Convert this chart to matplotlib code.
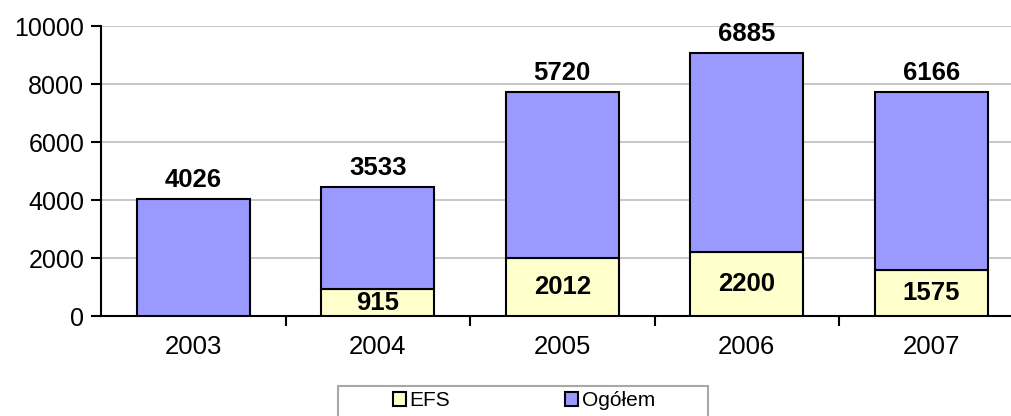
import matplotlib
matplotlib.use("Agg")
import matplotlib.pyplot as plt
from matplotlib.patches import Rectangle
import numpy as np

plt.rcParams['font.family'] = ['Liberation Sans', 'DejaVu Sans']

years = ['2003', '2004', '2005', '2006', '2007']
efs = [0, 915, 2012, 2200, 1575]
ogolem = [4026, 3533, 5720, 6885, 6166]

c_efs = '#FFFFCC'
c_ogolem = '#9999FF'

fig = plt.figure(figsize=(10.11, 4.16), dpi=100)
ax = fig.add_axes([101 / 1011, 100 / 416, 910 / 1011, 290 / 416])

x = np.arange(len(years))
w = 0.61
b1 = ax.bar(x, efs, w, color=c_efs, edgecolor='black', linewidth=1.5, label='EFS', zorder=3)
b2 = ax.bar(x, ogolem, w, bottom=efs, color=c_ogolem, edgecolor='black', linewidth=1.5,
            label='Ogółem', zorder=3)

ax.bar_label(b1, labels=[str(v) if v else '' for v in efs], label_type='center',
             fontsize=18.5, fontweight='bold')
ax.bar_label(b2, labels=[str(v) for v in ogolem], padding=5,
             fontsize=18.5, fontweight='bold')

ax.set_ylim(0, 10000)
ax.set_xlim(-0.5, -0.5 + 910 / 184.5)
ax.set_yticks(range(0, 10001, 2000))
ax.set_xticks(x)
ax.set_xticklabels(years)
ax.set_xticks(x[:-1] + 0.5, minor=True)
ax.tick_params(axis='x', which='major', length=0, pad=14, labelsize=18.5)
ax.tick_params(axis='x', which='minor', length=7, width=1.5, direction='out')
ax.tick_params(axis='y', length=7, width=1.5, direction='out', labelsize=18, pad=5)
ax.yaxis.grid(True, color='#BEBEBE', linewidth=1.2, zorder=0)
ax.set_axisbelow(True)

for s in ['top', 'right']:
    ax.spines[s].set_visible(False)
ax.spines['left'].set_linewidth(1.5)
ax.spines['bottom'].set_linewidth(1.5)

# legend box drawn separately (wider than the entries, cut off at the bottom)
fig.patches.append(Rectangle((338 / 1011, -10 / 416), 370 / 1011, 40 / 416,
                             transform=fig.transFigure, facecolor='white',
                             edgecolor='#A8A8A8', linewidth=1.5))
leg = fig.legend(handles=[b1, b2], loc='upper center', bbox_to_anchor=(524 / 1011, 31 / 416),
                 ncol=2, fontsize=15, frameon=False,
                 handlelength=0.6, handleheight=0.6, handletextpad=0.2, columnspacing=5.5,
                 borderpad=0.3, borderaxespad=0)
for h in leg.legend_handles:
    h.set_linewidth(1.5)

fig.savefig('out.png', dpi=100)
